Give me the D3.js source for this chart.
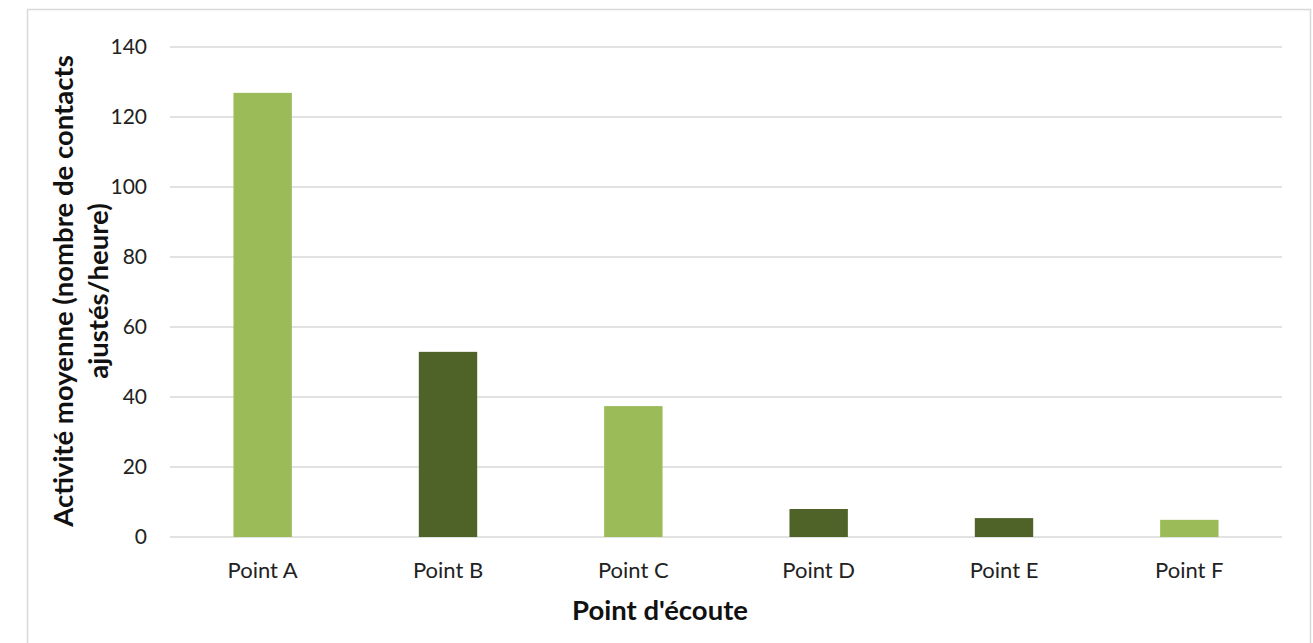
<!DOCTYPE html>
<html>
<head>
<meta charset="utf-8">
<script src="https://cdn.jsdelivr.net/npm/d3@7"></script>
<style>
  body { margin: 0; background: #fff; }
  text { font-family: Lato, "Open Sans", sans-serif; }
</style>
</head>
<body>
<svg id="chart" width="1313" height="643"></svg>
<script>
// data
var categories = ["Point A", "Point B", "Point C", "Point D", "Point E", "Point F"];
var values = [126.9, 52.9, 37.4, 8.0, 5.4, 4.9];
var barColors = ["#9BBB59", "#4F6228", "#9BBB59", "#4F6228", "#4F6228", "#9BBB59"];
var yTicks = [0, 20, 40, 60, 80, 100, 120, 140];

var svg = d3.select("#chart");
var width = +svg.attr("width");
var height = +svg.attr("height");

var margin = { top: 47, right: 31, bottom: 106, left: 170 };

// outer frame
svg.append("rect")
  .attr("x", 27.5)
  .attr("y", 9.5)
  .attr("width", 1283)
  .attr("height", 660)
  .attr("fill", "none")
  .attr("stroke", "#d9d9d9")
  .attr("stroke-width", 1.5);

var x = d3.scaleBand()
  .domain(categories)
  .range([margin.left, width - margin.right])
  .paddingInner(0.685)
  .paddingOuter(0.3425);

var y = d3.scaleLinear()
  .domain([0, 140])
  .range([height - margin.bottom, margin.top]);

// gridlines
svg.append("g")
  .selectAll("line")
  .data(yTicks)
  .enter()
  .append("line")
  .attr("x1", margin.left)
  .attr("x2", width - margin.right)
  .attr("y1", d => y(d))
  .attr("y2", d => y(d))
  .attr("stroke", "#d9d9d9")
  .attr("stroke-width", 1.5);

// bars
svg.append("g")
  .selectAll("rect")
  .data(values)
  .enter()
  .append("rect")
  .attr("x", (d, i) => x(categories[i]))
  .attr("y", d => y(d))
  .attr("width", x.bandwidth())
  .attr("height", d => y(0) - y(d))
  .attr("fill", (d, i) => barColors[i]);

// y tick labels
svg.append("g")
  .selectAll("text")
  .data(yTicks)
  .enter()
  .append("text")
  .attr("x", 147)
  .attr("y", d => y(d))
  .attr("dy", "0.35em")
  .attr("text-anchor", "end")
  .attr("fill", "#222")
  .style("font-size", "21px")
  .text(d => d);

// x tick labels
svg.append("g")
  .selectAll("text")
  .data(categories)
  .enter()
  .append("text")
  .attr("x", d => x(d) + x.bandwidth() / 2)
  .attr("y", 578)
  .attr("text-anchor", "middle")
  .attr("fill", "#222")
  .style("font-size", "22px")
  .text(d => d);

// axis titles
svg.append("text")
  .attr("x", 660)
  .attr("y", 620)
  .attr("text-anchor", "middle")
  .attr("fill", "#111")
  .style("font-size", "27.5px")
  .style("font-weight", "700")
  .text("Point d'écoute");

var yTitle = svg.append("text")
  .attr("transform", "translate(73, 291) rotate(-90)")
  .attr("text-anchor", "middle")
  .attr("fill", "#111")
  .style("font-size", "27.5px")
  .style("font-weight", "700");

yTitle.append("tspan")
  .attr("x", 0)
  .attr("y", 0)
  .text("Activité moyenne (nombre de contacts");

yTitle.append("tspan")
  .attr("x", 0)
  .attr("y", 35)
  .text("ajustés/heure)");
</script>
</body>
</html>
